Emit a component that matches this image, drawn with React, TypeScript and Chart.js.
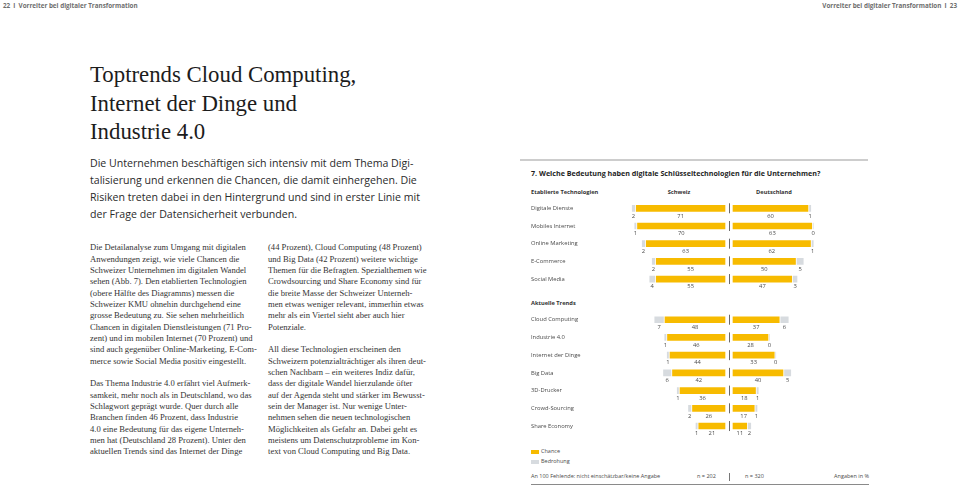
import React, { useEffect, useRef } from "react";
import { Chart, registerables } from "chart.js";

Chart.register(...registerables);

// ---------- data ----------
const establishedLabels = ["Digitale Dienste", "Mobiles Internet", "Online Marketing", "E-Commerce", "Social Media"];
const establishedChanceCH = [71, 70, 63, 55, 55];
const establishedThreatCH = [2, 1, 2, 2, 4];
const establishedChanceDE = [60, 63, 62, 50, 47];
const establishedThreatDE = [1, 0, 1, 5, 3];

const trendLabels = ["Cloud Computing", "Industrie 4.0", "Internet der Dinge", "Big Data", "3D-Drucker", "Crowd-Sourcing", "Share Economy"];
const trendChanceCH = [48, 46, 44, 42, 36, 26, 21];
const trendThreatCH = [7, 1, 1, 6, 1, 2, 1];
const trendChanceDE = [37, 28, 33, 40, 18, 17, 11];
const trendThreatDE = [6, 0, 0, 5, 1, 1, 2];

// ---------- style ----------
const SANS = '"Open Sans", "Noto Sans", sans-serif';
const SERIF = '"Liberation Serif", serif';
const YELLOW = "#F7BB00";
const GRAY = "#D7DBDF";
const LABEL = "#4a4a4a";

const CENTER_GAP = 3.2; // value units between divider and bars
const THREAT_GAP = 1.2; // value units between chance and threat bar
const X_EXTENT = 82;

function spans(chance: number[], threat: number[], side: number) {
  const ch = chance.map((v) => (side < 0 ? [-(CENTER_GAP + v), -CENTER_GAP] : [CENTER_GAP, CENTER_GAP + v]));
  const th = chance.map((v, i) => {
    const s = CENTER_GAP + v + THREAT_GAP;
    const e = s + threat[i];
    return side < 0 ? [-e, -s] : [s, e];
  });
  return { ch, th };
}

const valueLabels = {
  id: "valueLabels",
  afterDatasetsDraw(chart: any) {
    const ctx = chart.ctx;
    ctx.save();
    ctx.font = `5.8px ${SANS}`;
    ctx.fillStyle = LABEL;
    ctx.textAlign = "center";
    ctx.textBaseline = "middle";
    chart.data.datasets.forEach((ds: any, di: number) => {
      const meta = chart.getDatasetMeta(di);
      meta.data.forEach((bar: any, i: number) => {
        const { x, base, y } = bar.getProps(["x", "base", "y"], true);
        ctx.fillText(String(ds.values[i]), (x + base) / 2, y + 7.6);
      });
    });
    const x0 = Math.round(chart.scales.x.getPixelForValue(0)) + 0.5;
    ctx.strokeStyle = "#6a6a6a";
    ctx.lineWidth = 1;
    chart.scales.y.ticks.forEach((_: any, i: number) => {
      const y = chart.scales.y.getPixelForTick(i);
      ctx.beginPath();
      ctx.moveTo(x0, y - 5);
      ctx.lineTo(x0, y + 5);
      ctx.stroke();
    });
    ctx.restore();
  },
};

const CANVAS_LEFT = 520;
const CANVAS_W = 340;

function BarPanel(props: {
  labels: string[];
  chCH: number[];
  thCH: number[];
  chDE: number[];
  thDE: number[];
  top: number;
  height: number;
  padTop: number;
  padBottom: number;
}) {
  const ref = useRef<HTMLCanvasElement>(null);
  useEffect(() => {
    const ch = spans(props.chCH, props.thCH, -1);
    const de = spans(props.chDE, props.thDE, 1);
    const mk = (label: string, data: number[][], values: number[], color: string) => ({
      label,
      data,
      values,
      backgroundColor: color,
      barThickness: 6,
      grouped: false,
      borderWidth: 0,
    });
    const chart = new Chart(ref.current as HTMLCanvasElement, {
      type: "bar",
      data: {
        labels: props.labels,
        datasets: [
          mk("Chance Schweiz", ch.ch, props.chCH, YELLOW),
          mk("Bedrohung Schweiz", ch.th, props.thCH, GRAY),
          mk("Chance Deutschland", de.ch, props.chDE, YELLOW),
          mk("Bedrohung Deutschland", de.th, props.thDE, GRAY),
        ] as any,
      },
      options: {
        animation: false,
        responsive: false,
        indexAxis: "y",
        layout: { padding: { left: 11, right: CANVAS_W - 311.5, top: props.padTop, bottom: props.padBottom } },
        plugins: { legend: { display: false }, tooltip: { enabled: false } },
        scales: {
          x: { display: false, min: -X_EXTENT, max: X_EXTENT },
          y: {
            grid: { display: false },
            border: { display: false },
            ticks: {
              crossAlign: "far",
              padding: 0,
              autoSkip: false,
              color: LABEL,
              font: { family: SANS, size: 5.8 },
            },
            afterFit: (s: any) => {
              s.width = 95.5;
            },
          },
        },
      } as any,
      plugins: [valueLabels],
    });
    return () => chart.destroy();
  }, []);
  return (
    <canvas
      ref={ref}
      width={CANVAS_W}
      height={props.height}
      style={{ position: "absolute", left: CANVAS_LEFT, top: props.top, width: CANVAS_W, height: props.height }}
    />
  );
}

function Txt(p: {
  x: number;
  y: number;
  size: number;
  children: React.ReactNode;
  bold?: boolean;
  color?: string;
  family?: string;
  align?: "left" | "right" | "center";
}) {
  const base: React.CSSProperties = {
    position: "absolute",
    top: p.y - p.size * 0.62,
    fontSize: p.size,
    lineHeight: `${p.size}px`,
    fontFamily: p.family || SANS,
    fontWeight: p.bold ? 700 : 400,
    color: p.color || LABEL,
    whiteSpace: "pre",
  };
  if (p.align === "right") return <div style={{ ...base, right: 960 - p.x }}>{p.children}</div>;
  if (p.align === "center")
    return <div style={{ ...base, left: p.x - 100, width: 200, textAlign: "center" }}>{p.children}</div>;
  return <div style={{ ...base, left: p.x }}>{p.children}</div>;
}

const headingLines = ["Toptrends Cloud Computing,", "Internet der Dinge und", "Industrie 4.0"];
const leadLines = [
  "Die Unternehmen beschäftigen sich intensiv mit dem Thema Digi-",
  "talisierung und erkennen die Chancen, die damit einhergehen. Die",
  "Risiken treten dabei in den Hintergrund und sind in erster Linie mit",
  "der Frage der Datensicherheit verbunden.",
];
const col1Lines = [
  "Die Detailanalyse zum Umgang mit digitalen",
  "Anwendungen zeigt, wie viele Chancen die",
  "Schweizer Unternehmen im digitalen Wandel",
  "sehen (Abb. 7). Den etablierten Technologien",
  "(obere Hälfte des Diagramms) messen die",
  "Schweizer KMU ohnehin durchgehend eine",
  "grosse Bedeutung zu. Sie sehen mehrheitlich",
  "Chancen in digitalen Dienstleistungen (71 Pro-",
  "zent) und im mobilen Internet (70 Prozent) und",
  "sind auch gegenüber Online-Marketing, E-Com-",
  "merce sowie Social Media positiv eingestellt.",
  "",
  "Das Thema Industrie 4.0 erfährt viel Aufmerk-",
  "samkeit, mehr noch als in Deutschland, wo das",
  "Schlagwort geprägt wurde. Quer durch alle",
  "Branchen finden 46 Prozent, dass Industrie",
  "4.0 eine Bedeutung für das eigene Unterneh-",
  "men hat (Deutschland 28 Prozent). Unter den",
  "aktuellen Trends sind das Internet der Dinge",
];
const col2Lines = [
  "(44 Prozent), Cloud Computing (48 Prozent)",
  "und Big Data (42 Prozent) weitere wichtige",
  "Themen für die Befragten. Spezialthemen wie",
  "Crowdsourcing und Share Economy sind für",
  "die breite Masse der Schweizer Unterneh-",
  "men etwas weniger relevant, immerhin etwas",
  "mehr als ein Viertel sieht aber auch hier",
  "Potenziale.",
  "",
  "All diese Technologien erscheinen den",
  "Schweizern potenzialträchtiger als ihren deut-",
  "schen Nachbarn – ein weiteres Indiz dafür,",
  "dass der digitale Wandel hierzulande öfter",
  "auf der Agenda steht und stärker im Bewusst-",
  "sein der Manager ist. Nur wenige Unter-",
  "nehmen sehen die neuen technologischen",
  "Möglichkeiten als Gefahr an. Dabei geht es",
  "meistens um Datenschutzprobleme im Kon-",
  "text von Cloud Computing und Big Data.",
];

function Lines(p: { lines: string[]; x: number; top: number; size: number; lh: number; family: string; color: string }) {
  return (
    <div
      style={{
        position: "absolute",
        left: p.x,
        top: p.top,
        fontFamily: p.family,
        fontSize: p.size,
        lineHeight: `${p.lh}px`,
        color: p.color,
        whiteSpace: "nowrap",
      }}
    >
      {p.lines.map((l, i) => (
        <div key={i} style={{ height: p.lh }}>
          {l}
        </div>
      ))}
    </div>
  );
}

export default function App() {
  return (
    <div
      style={{
        position: "absolute",
        left: 0,
        top: 0,
        width: 960,
        height: 485,
        background: "#fff",
        overflow: "hidden",
      }}
    >
      <div
        style={{
          position: "absolute",
          left: 3,
          top: 1,
          fontFamily: SANS,
          fontSize: 6.3,
          lineHeight: "9px",
          fontWeight: 700,
          color: "#6e6e6e",
          whiteSpace: "pre",
        }}
      >
        {"22\u2002I\u2002Vorreiter bei digitaler Transformation"}
      </div>
      <div
        style={{
          position: "absolute",
          right: 3,
          top: 1,
          fontFamily: SANS,
          fontSize: 6.3,
          lineHeight: "9px",
          fontWeight: 700,
          color: "#6e6e6e",
          whiteSpace: "pre",
        }}
      >
        {"Vorreiter bei digitaler Transformation\u2002I\u200223"}
      </div>

      <Lines lines={headingLines} x={90} top={61} size={22.8} lh={28.5} family={SERIF} color="#1c1c1c" />
      <Lines lines={leadLines} x={90} top={154.5} size={10.6} lh={17.3} family={SANS} color="#2a2a2a" />
      <Lines lines={col1Lines} x={90} top={242.3} size={8.6} lh={11.33} family={SERIF} color="#333" />
      <Lines lines={col2Lines} x={268} top={242.3} size={8.6} lh={11.33} family={SERIF} color="#333" />

      {/* chart frame */}
      <div style={{ position: "absolute", left: 520, top: 159, width: 348, height: 2.2, background: "#cdcdcd" }} />
      <Txt x={531} y={174.2} size={7.15} bold color="#1e1e1e">
        7. Welche Bedeutung haben digitale Schlüsseltechnologien für die Unternehmen?
      </Txt>
      <Txt x={531} y={193.5} size={5.7} bold color="#333">
        Etablierte Technologien
      </Txt>
      <Txt x={679} y={193.5} size={5.7} bold color="#333" align="center">
        Schweiz
      </Txt>
      <Txt x={774} y={193.5} size={5.7} bold color="#333" align="center">
        Deutschland
      </Txt>
      <Txt x={531} y={305} size={5.7} bold color="#333">
        Aktuelle Trends
      </Txt>

      <BarPanel
        labels={establishedLabels}
        chCH={establishedChanceCH}
        thCH={establishedThreatCH}
        chDE={establishedChanceDE}
        thDE={establishedThreatDE}
        top={190}
        height={110}
        padTop={9.45}
        padBottom={12.1}
      />
      <BarPanel
        labels={trendLabels}
        chCH={trendChanceCH}
        thCH={trendThreatCH}
        chDE={trendChanceDE}
        thDE={trendThreatDE}
        top={302}
        height={145}
        padTop={8.85}
        padBottom={12.1}
      />

      {/* legend */}
      <div style={{ position: "absolute", left: 531, top: 450, width: 8, height: 4, background: YELLOW }} />
      <Txt x={541} y={452.3} size={5.5}>
        Chance
      </Txt>
      <div style={{ position: "absolute", left: 531, top: 460, width: 8, height: 4, background: GRAY }} />
      <Txt x={541} y={462.3} size={5.5}>
        Bedrohung
      </Txt>

      {/* footer */}
      <Txt x={531} y={477.2} size={5.5}>
        An 100 Fehlende: nicht einschätzbar/keine Angabe
      </Txt>
      <Txt x={697} y={477.2} size={5.5}>
        n = 202
      </Txt>
      <div style={{ position: "absolute", left: 729, top: 473, width: 1, height: 8, background: "#777" }} />
      <Txt x={745} y={477.2} size={5.5}>
        n = 320
      </Txt>
      <Txt x={869} y={477.2} size={5.5} align="right">
        Angaben in %
      </Txt>
      <div style={{ position: "absolute", left: 531, top: 483.5, width: 338, height: 1.2, background: "#8a8a8a" }} />
    </div>
  );
}
